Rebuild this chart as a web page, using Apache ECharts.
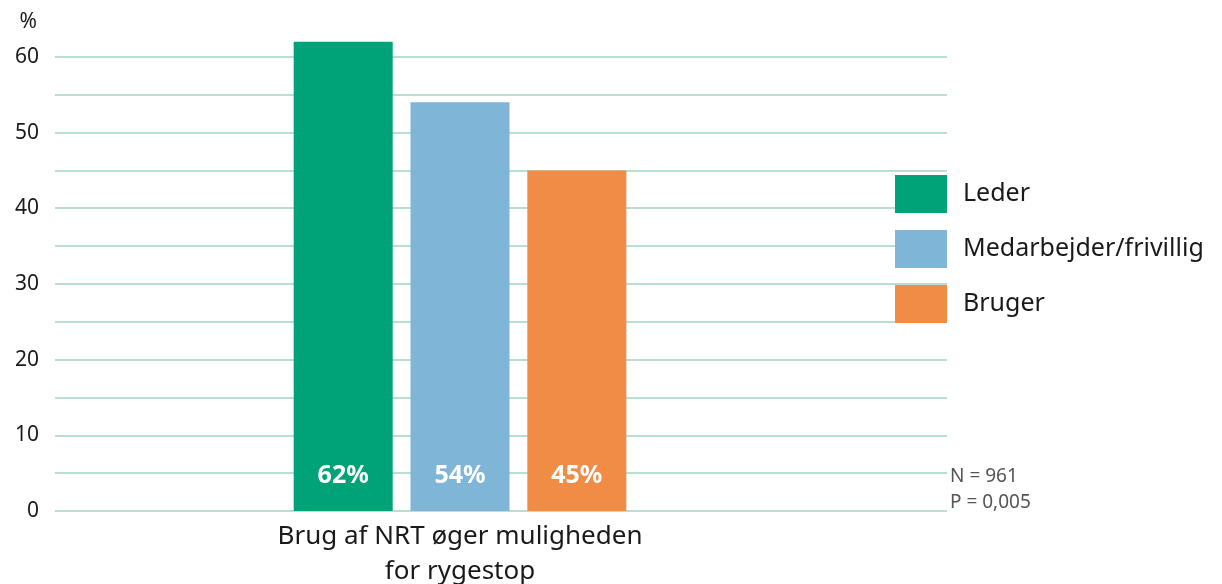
<!DOCTYPE html>
<html>
<head>
<meta charset="utf-8">
<script src="https://cdn.jsdelivr.net/npm/echarts@6/dist/echarts.min.js"></script>
<style>
  html, body { margin: 0; padding: 0; background: #fff; }
  #chart { width: 1222px; height: 584px; }
</style>
</head>
<body>
<div id="chart"></div>
<script>
let categories = ['Brug af NRT øger muligheden\nfor rygestop'];
let seriesNames = ['Leder', 'Medarbejder/frivillig', 'Bruger'];
let seriesValues = [[62], [54], [45]];
let seriesColors = ['#00a377', '#7fb5d6', '#f08c46'];
let yTicks = [0, 10, 20, 30, 40, 50, 60];
let notes = ['N = 961', 'P = 0,005'];

let font = '"Noto Sans", sans-serif';

let series = seriesNames.map(function(name, i) {
  return {
    name: name,
    type: 'bar',
    xAxisIndex: 1,
    yAxisIndex: 1,
    data: seriesValues[i],
    barWidth: 99,
    barGap: '18%',
    itemStyle: { color: seriesColors[i] },
    label: {
      show: true,
      position: 'insideBottom',
      distance: 23,
      color: '#fff',
      fontFamily: font,
      fontWeight: 'bold',
      fontSize: 25,
      formatter: function(p) { return p.value + '%'; }
    }
  };
});

let option = {
  animation: false,
  backgroundColor: '#fff',
  grid: [
    { left: 55, right: 275, top: 19, bottom: 73, outerBoundsMode: 'none' },
    { left: 55, right: 357, top: 19, bottom: 73, outerBoundsMode: 'none' }
  ],
  legend: {
    orient: 'vertical',
    left: 890,
    top: 170,
    itemWidth: 52,
    itemHeight: 38,
    itemGap: 17,
    icon: 'rect',
    data: seriesNames,
    textStyle: {
      fontFamily: font,
      fontSize: 25,
      color: '#1a1a1a',
      padding: [6, 0, 0, 11]
    }
  },
  xAxis: [
    {
      type: 'category',
      gridIndex: 0,
      data: [''],
      axisLine: { show: false },
      axisTick: { show: false },
      axisLabel: { show: false }
    },
    {
      type: 'category',
      gridIndex: 1,
      data: categories,
      axisLine: { show: false },
      axisTick: { show: false },
      axisLabel: {
        margin: 8,
        color: '#1a1a1a',
        fontFamily: font,
        fontSize: 26,
        lineHeight: 35
      }
    }
  ],
  yAxis: [
    {
      type: 'value',
      gridIndex: 0,
      min: 0,
      max: 65,
      interval: 5,
      name: '%',
      nameLocation: 'end',
      nameGap: -14,
      nameTextStyle: {
        fontFamily: font,
        fontSize: 21,
        color: '#1a1a1a',
        align: 'right',
        padding: [0, 18, 0, 0]
      },
      axisLine: { show: false },
      axisTick: { show: false },
      axisLabel: {
        margin: 16,
        color: '#1a1a1a',
        fontFamily: font,
        fontSize: 21,
        formatter: function(v) { return yTicks.indexOf(v) >= 0 ? String(v) : ''; }
      },
      splitLine: {
        showMaxLine: false,
        lineStyle: { color: '#b9dfcf', width: 2 }
      }
    },
    {
      type: 'value',
      gridIndex: 1,
      min: 0,
      max: 65,
      interval: 5,
      show: false,
      splitLine: { show: false }
    }
  ],
  graphic: notes.map(function(t, i) {
    return {
      type: 'text',
      x: 950,
      y: 477 + i * 26,
      style: {
        text: t,
        fontFamily: font,
        fontSize: 19,
        fill: '#555',
        verticalAlign: 'middle'
      }
    };
  }),
  series: series
};

let chart = echarts.init(document.getElementById('chart'));
chart.setOption(option);
</script>
</body>
</html>
